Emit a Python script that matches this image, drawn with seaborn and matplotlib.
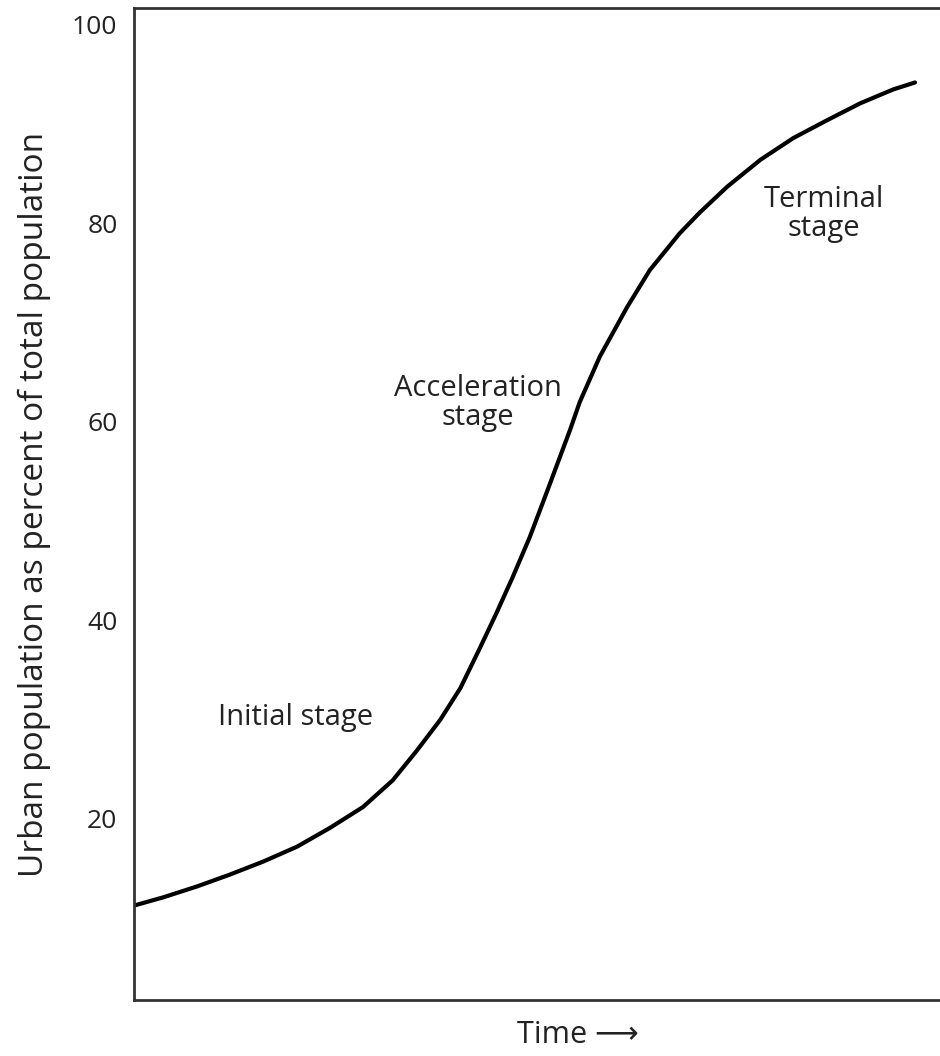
import pandas as pd
import seaborn as sns
import matplotlib.pyplot as plt

# 曲线读数（时间为任意单位，纵轴为城市人口占总人口的百分比）
time = [0.1, 3.6, 7.8, 11.9, 16.0, 20.2, 24.3, 28.4, 32.1, 35.1, 38.0, 40.5, 42.9,
        45.0, 47.0, 49.1, 51.2, 54.1, 55.3, 57.8, 61.2, 64.0, 65.3, 67.7, 70.2,
        73.6, 77.7, 81.8, 86.0, 90.1, 94.2, 96.9]
urban_pct = [11.3, 12.1, 13.2, 14.4, 15.7, 17.2, 19.1, 21.2, 23.9, 26.9, 30.0, 33.2,
             37.2, 40.8, 44.4, 48.4, 52.9, 59.2, 62.0, 66.6, 71.6, 75.3, 76.6, 79.0,
             81.1, 83.7, 86.4, 88.6, 90.4, 92.1, 93.5, 94.2]
y_ticks = [20, 40, 60, 80, 100]

# 阶段标注
stage_labels = ['Initial stage', 'Acceleration\nstage', 'Terminal\nstage']
stage_x = [20.1, 42.7, 85.6]
stage_y = [30.2, 61.9, 80.9]

df = pd.DataFrame({'Time': time, 'Urban': urban_pct})

sns.set_style('white')
plt.rcParams['font.family'] = ['Open Sans', 'DejaVu Sans']

fig = plt.figure(figsize=(9.4, 10.56), dpi=100)
ax = fig.add_axes([0.1426, 0.053, 0.8574, 0.9394])

sns.lineplot(data=df, x='Time', y='Urban', color='black', linewidth=3, ax=ax)

ax.set_xlim(0, 100)
ax.set_ylim(1.76, 101.7)
ax.set_xticks([])
ax.set_yticks(y_ticks)
ax.set_yticklabels([str(v) for v in y_ticks], fontsize=19, color='#222222')
ax.tick_params(axis='y', length=0, pad=12)

ax.set_xlabel('Time \u27f6', fontsize=22, color='#222222')
ax.xaxis.set_label_coords(0.551, -0.02)
ax.set_ylabel('Urban population as percent of total population', fontsize=24,
              color='#222222')
ax.yaxis.set_label_coords(-0.103, 0.5)

for lab, x, y in zip(stage_labels, stage_x, stage_y):
    ax.text(x, y, lab, fontsize=21, color='#222222', ha='center', va='center',
            linespacing=1.0)

for side in ['left', 'bottom', 'top']:
    ax.spines[side].set_color('#333333')
    ax.spines[side].set_linewidth(2)
ax.spines['right'].set_visible(False)

fig.savefig('out.png', dpi=100)
